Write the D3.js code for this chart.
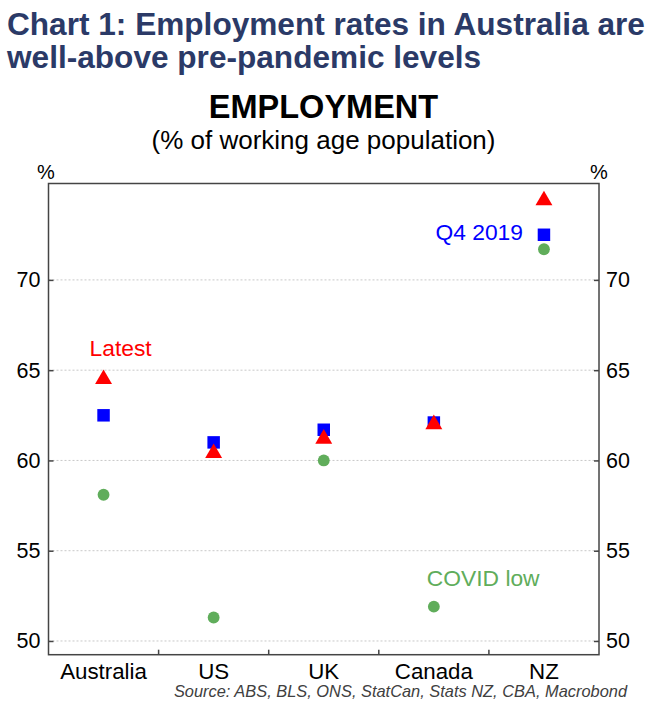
<!DOCTYPE html>
<html>
<head>
<meta charset="utf-8">
<script src="https://cdn.jsdelivr.net/npm/d3@7"></script>
<style>
  body { margin: 0; background: #fff; }
  svg { display: block; font-family: "Liberation Sans", Arial, sans-serif; }
</style>
</head>
<body>
<svg width="657" height="709"></svg>
<script>
// chart data
var countries = ["Australia", "US", "UK", "Canada", "NZ"];
var latest = [64.5, 60.4, 61.2, 62.0, 74.4];
var q42019 = [62.5, 61.0, 61.7, 62.1, 72.5];
var covidLow = [58.1, 51.3, 60.0, 51.9, 71.7];
var yTicks = [50, 55, 60, 65, 70];

var svg = d3.select("svg"),
    plotLeft = 48.5, plotRight = 599, plotTop = 183.5, plotBottom = 654.7;

var x = d3.scaleBand().domain(countries).range([plotLeft, plotRight]).padding(0);
var y = d3.scaleLinear().domain([49.24, 75.34]).range([plotBottom, plotTop]);

// headings
var title = svg.append("g").attr("fill", "#2b3a67")
    .attr("font-weight", "bold").attr("font-size", 31.6);
title.append("text").attr("x", 7).attr("y", 35).text("Chart 1: Employment rates in Australia are");
title.append("text").attr("x", 7).attr("y", 68).text("well-above pre-pandemic levels");

svg.append("text")
    .attr("x", 323.5).attr("y", 118)
    .attr("text-anchor", "middle")
    .attr("font-weight", "bold").attr("font-size", 32.5)
    .text("EMPLOYMENT");

svg.append("text")
    .attr("x", 323.5).attr("y", 149)
    .attr("text-anchor", "middle")
    .attr("font-size", 26)
    .text("(% of working age population)");

// gridlines
svg.append("g").selectAll("line")
    .data(yTicks)
    .enter().append("line")
    .attr("x1", plotLeft).attr("x2", plotRight)
    .attr("y1", function (d) { return y(d); })
    .attr("y2", function (d) { return y(d); })
    .attr("stroke", "#c8c8c8")
    .attr("stroke-dasharray", "2,2");

// axes, ticks drawn inwards
var axisL = svg.append("g")
    .attr("transform", "translate(" + plotLeft + ",0)")
    .call(d3.axisRight(y).tickValues(yTicks).tickSize(5).tickFormat(""));
var axisR = svg.append("g")
    .attr("transform", "translate(" + plotRight + ",0)")
    .call(d3.axisLeft(y).tickValues(yTicks).tickSize(5).tickFormat(""));
[axisL, axisR].forEach(function (a) {
    a.select(".domain").remove();
    a.selectAll("line").attr("stroke", "#444").attr("stroke-width", 1.5);
});

// category dividers on the bottom axis
svg.append("g").selectAll("line")
    .data(countries.slice(1))
    .enter().append("line")
    .attr("x1", function (d) { return x(d); })
    .attr("x2", function (d) { return x(d); })
    .attr("y1", plotBottom).attr("y2", plotBottom - 5)
    .attr("stroke", "#444").attr("stroke-width", 1.5);

svg.append("rect")
    .attr("x", plotLeft).attr("y", plotTop)
    .attr("width", plotRight - plotLeft).attr("height", plotBottom - plotTop)
    .attr("fill", "none").attr("stroke", "#444").attr("stroke-width", 1.5);

// tick labels
svg.append("g").selectAll("text")
    .data(yTicks)
    .enter().append("text")
    .attr("x", plotLeft - 8).attr("y", function (d) { return y(d) + 7.5; })
    .attr("text-anchor", "end").attr("font-size", 21.5)
    .text(function (d) { return d; });
svg.append("g").selectAll("text")
    .data(yTicks)
    .enter().append("text")
    .attr("x", plotRight + 7).attr("y", function (d) { return y(d) + 7.5; })
    .attr("font-size", 21.5)
    .text(function (d) { return d; });

svg.append("text").attr("x", 46).attr("y", 179).attr("text-anchor", "middle")
    .attr("font-size", 20).text("%");
svg.append("text").attr("x", 599).attr("y", 179).attr("text-anchor", "middle")
    .attr("font-size", 20).text("%");

svg.append("g").selectAll("text")
    .data(countries)
    .enter().append("text")
    .attr("x", function (d) { return x(d) + x.bandwidth() / 2; })
    .attr("y", 679)
    .attr("text-anchor", "middle").attr("font-size", 22.3)
    .text(function (d) { return d; });

svg.append("text")
    .attr("x", 627).attr("y", 697)
    .attr("text-anchor", "end")
    .attr("font-size", 16.4).attr("font-style", "italic").attr("fill", "#404040")
    .text("Source: ABS, BLS, ONS, StatCan, Stats NZ, CBA, Macrobond");

// markers
function cx(i) { return x(countries[i]) + x.bandwidth() / 2; }

function drawSeries(values, type, size, color) {
    svg.append("g").selectAll("path")
        .data(values)
        .enter().append("path")
        .attr("d", d3.symbol().type(type).size(size))
        .attr("transform", function (d, i) { return "translate(" + cx(i) + "," + y(d) + ")"; })
        .attr("fill", color);
}

drawSeries(covidLow, d3.symbolCircle, 110, "#60ad5b");
drawSeries(q42019, d3.symbolSquare, 156, "#0000ff");
drawSeries(latest, d3.symbolTriangle, 124, "#ff0000");

// series labels
svg.append("text").attr("x", cx(0) - 14).attr("y", y(latest[0]) - 23)
    .attr("font-size", 22.8).attr("fill", "#ff0000").text("Latest");
svg.append("text").attr("x", cx(4) - 21).attr("y", y(q42019[4]) + 5)
    .attr("text-anchor", "end")
    .attr("font-size", 22.8).attr("fill", "#0000ff").text("Q4 2019");
svg.append("text").attr("x", cx(3) - 7).attr("y", y(covidLow[3]) - 21)
    .attr("font-size", 22.8).attr("fill", "#60ad5b").text("COVID low");
</script>
</body>
</html>
